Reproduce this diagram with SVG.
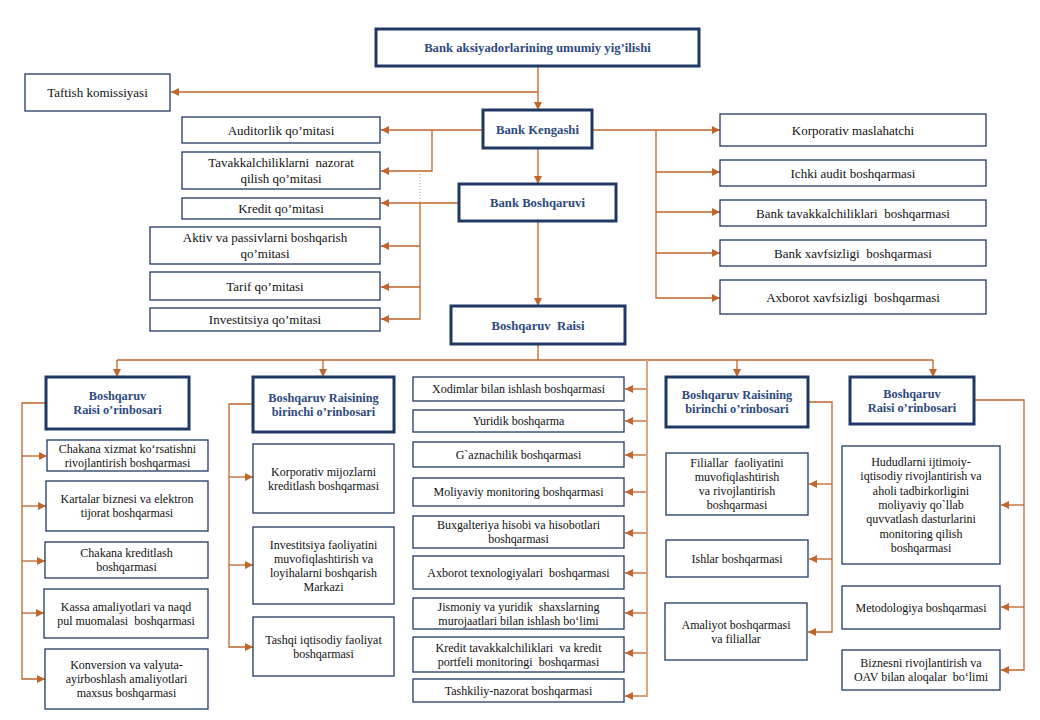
<svg xmlns="http://www.w3.org/2000/svg" width="1040" height="720" viewBox="0 0 1040 720">
<style>
.box{fill:#fff;stroke:#1F3864;stroke-width:1.3}
.main{fill:#fff;stroke:#1F3864;stroke-width:3}
text{font-family:"Liberation Serif","Times New Roman",serif;font-size:12px;fill:#111;text-anchor:middle}
.m{font-size:13px}
.b{font-weight:bold;fill:#2E4A7E;font-size:12.3px}
.bt{font-size:12.7px}
.c{fill:none;stroke:#C0652B;stroke-width:1.3}
.cl{fill:none;stroke:#D9A67F;stroke-width:2}
.dot{fill:none;stroke:#C89070;stroke-width:1;stroke-dasharray:1,2}
</style>
<defs>
<marker id="a" markerUnits="userSpaceOnUse" markerWidth="9" markerHeight="8" refX="8" refY="4" orient="auto"><path d="M0,0 L8,4 L0,8 z" fill="#C0652B"/></marker>
</defs>
<rect width="1040" height="720" fill="#fff"/>
<g id="connectors">
<path class="c" d="M538,66 V110" marker-end="url(#a)"/>
<path class="c" d="M538,92 H171" marker-end="url(#a)"/>
<path class="c" d="M538,148 V184" marker-end="url(#a)"/>
<path class="c" d="M538,221 V306" marker-end="url(#a)"/>
<path class="c" d="M483,130 H381" marker-end="url(#a)"/>
<path class="c" d="M432,130 V171 H381" marker-end="url(#a)"/>
<path class="dot" d="M420,171 V203"/>
<path class="c" d="M459,203 H381" marker-end="url(#a)"/>
<path class="c" d="M420,203 V319 H381" marker-end="url(#a)"/>
<path class="c" d="M420,246 H381" marker-end="url(#a)"/>
<path class="c" d="M420,287 H381" marker-end="url(#a)"/>
<path class="c" d="M592,130 H720" marker-end="url(#a)"/>
<path class="c" d="M656,130 V298 H720" marker-end="url(#a)"/>
<path class="c" d="M656,172 H720" marker-end="url(#a)"/>
<path class="c" d="M656,212 H720" marker-end="url(#a)"/>
<path class="c" d="M656,253 H720" marker-end="url(#a)"/>
<path class="c" d="M538,344 V360 M117,360 H933"/>
<path class="c" d="M117,360 V377" marker-end="url(#a)"/>
<path class="c" d="M323,360 V377" marker-end="url(#a)"/>
<path class="c" d="M737,360 V377" marker-end="url(#a)"/>
<path class="c" d="M933,360 V377" marker-end="url(#a)"/>
<path class="cl" d="M647,360 V697"/>
<path class="c" d="M646,389 H625" marker-end="url(#a)"/>
<path class="c" d="M646,421 H625" marker-end="url(#a)"/>
<path class="c" d="M646,455 H625" marker-end="url(#a)"/>
<path class="c" d="M646,492 H625" marker-end="url(#a)"/>
<path class="c" d="M646,533 H625" marker-end="url(#a)"/>
<path class="c" d="M646,573 H625" marker-end="url(#a)"/>
<path class="c" d="M646,613 H625" marker-end="url(#a)"/>
<path class="c" d="M646,653 H625" marker-end="url(#a)"/>
<path class="c" d="M646,696 H625" marker-end="url(#a)"/>
<path class="c" d="M46,403 H22 V679 H45" marker-end="url(#a)"/>
<path class="c" d="M22,456 H47" marker-end="url(#a)"/>
<path class="c" d="M22,506 H46" marker-end="url(#a)"/>
<path class="c" d="M22,561 H45" marker-end="url(#a)"/>
<path class="c" d="M22,613 H44" marker-end="url(#a)"/>
<path class="c" d="M253,404 H229 V647 H253" marker-end="url(#a)"/>
<path class="c" d="M229,477 H253" marker-end="url(#a)"/>
<path class="c" d="M229,565 H253" marker-end="url(#a)"/>
<path class="c" d="M808,402 H832 V632 H808" marker-end="url(#a)"/>
<path class="c" d="M832,484 H809" marker-end="url(#a)"/>
<path class="c" d="M832,559 H809" marker-end="url(#a)"/>
<path class="c" d="M974,400 H1024 V670 H1001" marker-end="url(#a)"/>
<path class="c" d="M1024,505 H1001" marker-end="url(#a)"/>
<path class="c" d="M1024,607 H1001" marker-end="url(#a)"/>
</g>
<g id="n-top"><rect class="main" x="376" y="29" width="323" height="37"/><text class="b bt" x="537.5" y="51.5">Bank aksiyadorlarining umumiy yig’ilishi</text></g>
<g id="n-taftish"><rect class="box" x="25" y="74" width="145" height="37"/><text class="m" x="97.5" y="97">Taftish komissiyasi</text></g>
<g id="n-kengash"><rect class="main" x="483" y="110" width="109" height="38"/><text class="b bt" x="537.5" y="133.5">Bank Kengashi</text></g>
<g id="n-boshqaruvi"><rect class="main" x="459" y="184" width="157" height="37"/><text class="b bt" x="537.5" y="207">Bank Boshqaruvi</text></g>
<g id="n-raisi"><rect class="main" x="451" y="306" width="174" height="38"/><text class="b bt" x="538" y="329.5" xml:space="preserve">Boshqaruv  Raisi</text></g>
<g id="n-auditorlik"><rect class="box" x="182" y="117" width="198" height="26"/><text class="m" x="281" y="134.5">Auditorlik qo’mitasi</text></g>
<g id="n-tavakkal"><rect class="box" x="182" y="152" width="198" height="37"/><text class="m" x="281" y="167" xml:space="preserve">Tavakkalchiliklarni  nazorat</text><text class="m" x="281" y="183">qilish qo’mitasi</text></g>
<g id="n-kredit"><rect class="box" x="182" y="198" width="198" height="21"/><text class="m" x="281" y="213">Kredit qo’mitasi</text></g>
<g id="n-aktiv"><rect class="box" x="150" y="227" width="230" height="37"/><text class="m" x="265" y="242">Aktiv va passivlarni boshqarish</text><text class="m" x="265" y="258">qo’mitasi</text></g>
<g id="n-tarif"><rect class="box" x="150" y="272" width="230" height="28"/><text class="m" x="265" y="290.5">Tarif qo’mitasi</text></g>
<g id="n-invest"><rect class="box" x="150" y="308" width="230" height="23"/><text class="m" x="265" y="324">Investitsiya qo’mitasi</text></g>
<g id="n-korp-masl"><rect class="box" x="720" y="114" width="266" height="32"/><text class="m" x="853" y="134.5">Korporativ maslahatchi</text></g>
<g id="n-ichki"><rect class="box" x="720" y="160" width="266" height="26"/><text class="m" x="853" y="177.5">Ichki audit boshqarmasi</text></g>
<g id="n-bank-tav"><rect class="box" x="720" y="200" width="266" height="26"/><text class="m" x="853" y="217.5" xml:space="preserve">Bank tavakkalchiliklari  boshqarmasi</text></g>
<g id="n-bank-xavf"><rect class="box" x="720" y="240" width="266" height="26"/><text class="m" x="853" y="257.5" xml:space="preserve">Bank xavfsizligi  boshqarmasi</text></g>
<g id="n-axb-xavf"><rect class="box" x="720" y="280" width="266" height="34"/><text class="m" x="853" y="301.5" xml:space="preserve">Axborot xavfsizligi  boshqarmasi</text></g>
<g id="n-d1"><rect class="main" x="46" y="377" width="143" height="52"/><text class="b" x="117.5" y="400">Boshqaruv</text><text class="b" x="117.5" y="414">Raisi o’rinbosari</text></g>
<g id="n-d2"><rect class="main" x="253" y="377" width="141" height="55"/><text class="b" x="323.5" y="401.5">Boshqaruv Raisining</text><text class="b" x="323.5" y="415.5">birinchi o’rinbosari</text></g>
<g id="n-d3"><rect class="main" x="666" y="377" width="142" height="50"/><text class="b" x="737" y="399">Boshqaruv Raisining</text><text class="b" x="737" y="413">birinchi o’rinbosari</text></g>
<g id="n-d4"><rect class="main" x="850" y="377" width="124" height="47"/><text class="b" x="912" y="397.5">Boshqaruv</text><text class="b" x="912" y="411.5">Raisi o’rinbosari</text></g>
<g id="n-chakana-x"><rect class="box" x="47" y="440" width="161" height="31"/><text x="127.5" y="452.5">Chakana xizmat ko‘rsatishni</text><text x="127.5" y="466.5">rivojlantirish boshqarmasi</text></g>
<g id="n-kartalar"><rect class="box" x="46" y="481" width="162" height="50"/><text x="127" y="503">Kartalar biznesi va elektron</text><text x="127" y="517">tijorat boshqarmasi</text></g>
<g id="n-chakana-k"><rect class="box" x="45" y="542" width="163" height="36"/><text x="126.5" y="557">Chakana kreditlash</text><text x="126.5" y="571">boshqarmasi</text></g>
<g id="n-kassa"><rect class="box" x="44" y="589" width="164" height="49"/><text x="126" y="610.5">Kassa amaliyotlari va naqd</text><text x="126" y="624.5" xml:space="preserve">pul muomalasi  boshqarmasi</text></g>
<g id="n-konversion"><rect class="box" x="45" y="649" width="163" height="60"/><text x="126.5" y="669">Konversion va valyuta-</text><text x="126.5" y="683">ayirboshlash amaliyotlari</text><text x="126.5" y="697">maxsus boshqarmasi</text></g>
<g id="n-korp-mij"><rect class="box" x="253" y="444" width="141" height="69"/><text x="323.5" y="475.5">Korporativ mijozlarni</text><text x="323.5" y="489.5">kreditlash boshqarmasi</text></g>
<g id="n-invest-f"><rect class="box" x="253" y="527" width="141" height="77"/><text x="323.5" y="548.5">Investitsiya faoliyatini</text><text x="323.5" y="562.5">muvofiqlashtirish va</text><text x="323.5" y="576.5">loyihalarni boshqarish</text><text x="323.5" y="590.5">Markazi</text></g>
<g id="n-tashqi"><rect class="box" x="253" y="617" width="141" height="59"/><text x="323.5" y="643.5">Tashqi iqtisodiy faoliyat</text><text x="323.5" y="657.5">boshqarmasi</text></g>
<g id="n-xodimlar"><rect class="box" x="413" y="377" width="211" height="24"/><text x="518.5" y="393">Xodimlar bilan ishlash boshqarmasi</text></g>
<g id="n-yuridik"><rect class="box" x="413" y="410" width="211" height="22"/><text x="518.5" y="425">Yuridik boshqarma</text></g>
<g id="n-gazna"><rect class="box" x="413" y="442" width="211" height="25"/><text x="518.5" y="458.5">G`aznachilik boshqarmasi</text></g>
<g id="n-moliyaviy"><rect class="box" x="413" y="478" width="211" height="28"/><text x="518.5" y="496">Moliyaviy monitoring boshqarmasi</text></g>
<g id="n-buxg"><rect class="box" x="413" y="516" width="211" height="32"/><text x="518.5" y="529">Buxgalteriya hisobi va hisobotlari</text><text x="518.5" y="543">boshqarmasi</text></g>
<g id="n-axb-tex"><rect class="box" x="413" y="556" width="211" height="33"/><text x="518.5" y="576.5" xml:space="preserve">Axborot texnologiyalari  boshqarmasi</text></g>
<g id="n-jismoniy"><rect class="box" x="413" y="598" width="211" height="31"/><text x="518.5" y="610.5" xml:space="preserve">Jismoniy va yuridik  shaxslarning</text><text x="518.5" y="624.5">murojaatlari bilan ishlash bo‘limi</text></g>
<g id="n-kredit-tav"><rect class="box" x="413" y="637" width="211" height="35"/><text x="518.5" y="651.5" xml:space="preserve">Kredit tavakkalchiliklari  va kredit</text><text x="518.5" y="665.5" xml:space="preserve">portfeli monitoringi  boshqarmasi</text></g>
<g id="n-tashkiliy"><rect class="box" x="413" y="679" width="211" height="23"/><text x="518.5" y="694.5">Tashkiliy-nazorat boshqarmasi</text></g>
<g id="n-filiallar"><rect class="box" x="666" y="453" width="142" height="62"/><text x="737" y="467" xml:space="preserve">Filiallar  faoliyatini</text><text x="737" y="481">muvofiqlashtirish</text><text x="737" y="495">va rivojlantirish</text><text x="737" y="509">boshqarmasi</text></g>
<g id="n-ishlar"><rect class="box" x="666" y="540" width="142" height="37"/><text x="737" y="562.5">Ishlar boshqarmasi</text></g>
<g id="n-amaliyot"><rect class="box" x="665" y="603" width="142" height="57"/><text x="736" y="628.5">Amaliyot boshqarmasi</text><text x="736" y="642.5">va filiallar</text></g>
<g id="n-hududlar"><rect class="box" x="842" y="446" width="158" height="118"/><text x="921" y="466">Hududlarni ijtimoiy-</text><text x="921" y="480.3">iqtisodiy rivojlantirish va</text><text x="921" y="494.6">aholi tadbirkorligini</text><text x="921" y="508.9">moliyaviy qo`llab</text><text x="921" y="523.2">quvvatlash dasturlarini</text><text x="921" y="537.5">monitoring qilish</text><text x="921" y="551.8">boshqarmasi</text></g>
<g id="n-metod"><rect class="box" x="842" y="586" width="158" height="43"/><text x="921" y="611.5">Metodologiya boshqarmasi</text></g>
<g id="n-biznes"><rect class="box" x="842" y="650" width="158" height="40"/><text x="921" y="667">Biznesni rivojlantirish va</text><text x="921" y="681" xml:space="preserve">OAV bilan aloqalar  bo‘limi</text></g>
</svg>
